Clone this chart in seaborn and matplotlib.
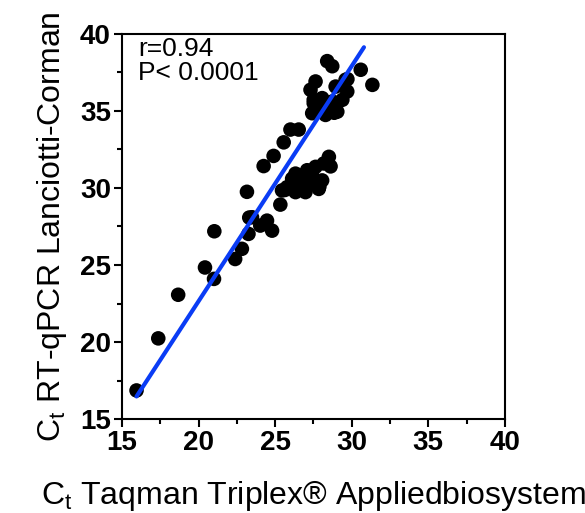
import matplotlib
matplotlib.use("Agg")
import matplotlib.pyplot as plt
import seaborn as sns
import pandas as pd
from matplotlib.ticker import MultipleLocator

sns.set_theme(style="ticks")
plt.rcParams['font.family'] = ['Liberation Sans', 'DejaVu Sans']
plt.rcParams['mathtext.fontset'] = 'custom'
plt.rcParams['mathtext.rm'] = 'Liberation Sans'
plt.rcParams['text.color'] = 'black'
plt.rcParams['axes.labelcolor'] = 'black'
plt.rcParams['xtick.color'] = 'black'
plt.rcParams['ytick.color'] = 'black'

# Ct values: Taqman Triplex (x) vs RT-qPCR Lanciotti-Corman (y)
taqman = [15.95, 17.37, 18.67, 20.42, 21.01, 21.03, 22.39, 22.83, 23.16, 23.31,
          23.26, 23.49, 24.03, 24.47, 24.80, 24.25, 24.90, 25.56, 26.00, 26.54,
          25.34, 25.64, 25.45, 25.78, 26.33, 26.98, 26.54, 27.20, 27.85, 28.07,
          27.42, 26.77, 26.11, 26.33, 27.09, 27.64, 28.18, 28.51, 28.62, 27.89,
          28.40, 28.73, 30.59, 31.35, 27.64, 27.31, 29.60, 28.95, 29.71, 27.52,
          28.07, 28.73, 29.39, 27.42, 28.29, 29.06, 27.52, 28.07, 28.86, 29.72]
lanciotti = [16.86, 20.24, 23.07, 24.84, 24.10, 27.19, 25.39, 26.05, 29.75, 28.08,
             27.02, 28.10, 27.56, 27.88, 27.23, 31.42, 32.08, 32.96, 33.79, 33.79,
             28.92, 29.87, 29.84, 30.05, 29.73, 29.73, 30.27, 30.27, 29.94, 30.49,
             30.81, 30.71, 30.60, 30.93, 31.15, 31.37, 31.59, 32.02, 31.40, 30.09,
             38.23, 37.90, 37.67, 36.69, 36.91, 36.37, 37.02, 36.58, 36.26, 35.72,
             35.83, 35.61, 35.72, 34.85, 34.74, 34.95, 35.50, 35.18, 34.88, 37.06]

# fitted regression line end points (as drawn in the reference)
fit_x = [15.95, 30.80]
fit_y = [16.47, 39.13]

df = pd.DataFrame({"x": taqman, "y": lanciotti})
fit = pd.DataFrame({"x": fit_x, "y": fit_y})

fig = plt.figure(figsize=(5.85, 5.13), dpi=100)
ax = fig.add_axes([0.2085, 0.183, 0.6545, 0.751])

sns.scatterplot(data=df, x="x", y="y", ax=ax, color="black", s=110,
                edgecolor="none", zorder=2)
sns.lineplot(data=fit, x="x", y="y", ax=ax, color="#0a3cf5", linewidth=3,
             zorder=3)

ax.set_xlim(15, 40)
ax.set_ylim(15, 40)
ax.xaxis.set_major_locator(MultipleLocator(5))
ax.xaxis.set_minor_locator(MultipleLocator(2.5))
ax.yaxis.set_major_locator(MultipleLocator(5))
ax.yaxis.set_minor_locator(MultipleLocator(2.5))
ax.tick_params(which="major", direction="out", length=6, width=1.5,
               color="black", labelsize=20, pad=2)
ax.tick_params(which="minor", direction="out", length=3.5, width=1.5,
               color="black")
for lab in ax.get_xticklabels() + ax.get_yticklabels():
    lab.set_fontweight("bold")
for sp in ax.spines.values():
    sp.set_visible(True)
    sp.set_linewidth(1.5)
    sp.set_color("black")

ax.set_xlabel("C$_\\mathregular{t}$ Taqman Triplex® Appliedbiosystem",
              fontsize=23, labelpad=16)
ax.set_ylabel("C$_\\mathregular{t}$ RT-qPCR Lanciotti-Corman",
              fontsize=23, labelpad=8)

ax.text(16.05, 39.8, "r=0.94\nP< 0.0001", fontsize=19, va="top", ha="left",
        linespacing=1.0)

fig.savefig("out.png", dpi=100)
